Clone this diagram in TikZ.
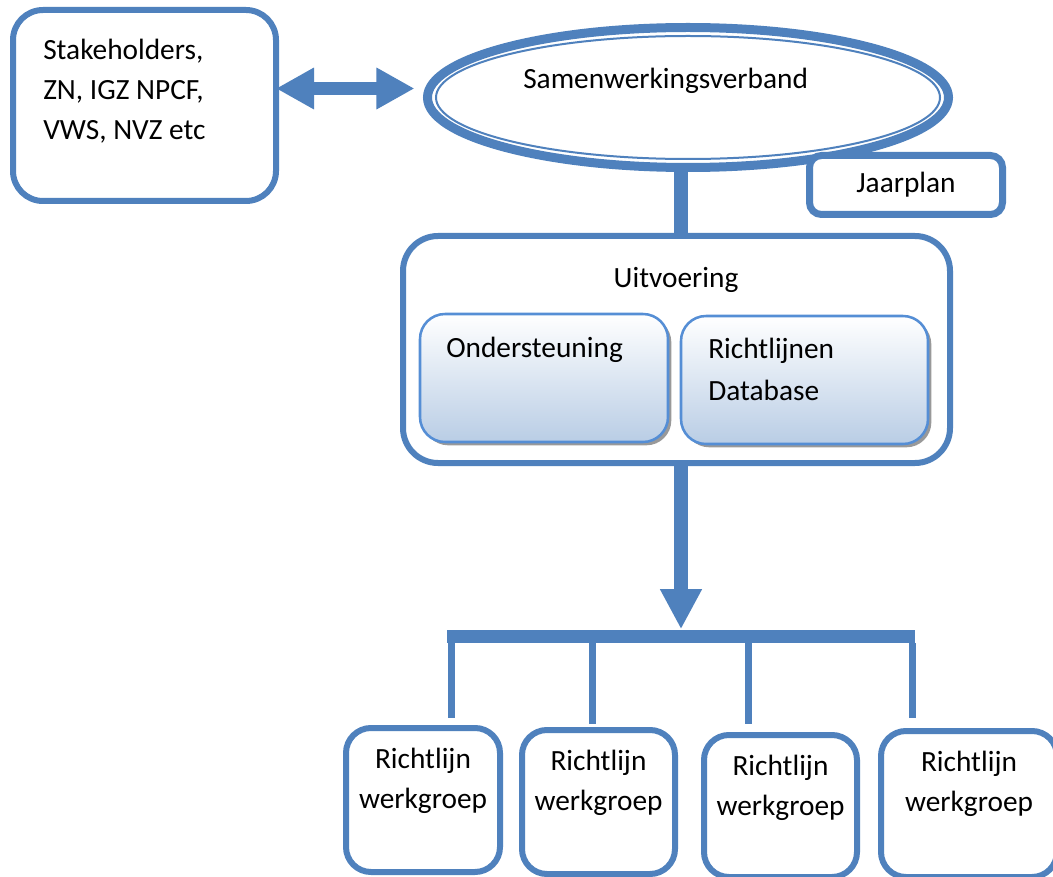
\documentclass[tikz,border=0pt]{standalone}
\usepackage{fontspec}
\setmainfont{Carlito}
\usetikzlibrary{positioning,shapes.geometric,arrows.meta,shadows}
\definecolor{wordblue}{HTML}{4F81BD}
\definecolor{brightblue}{HTML}{558ED5}
\definecolor{paleblue}{HTML}{B9CDE5}

\begin{document}
\begin{tikzpicture}[
x=0.75pt, y=-0.75pt,
font=\fontsize{22}{30}\selectfont,
panel/.style={draw=wordblue, line width=4.5pt, fill=white, rounded corners=#1, inner sep=0pt},
subpanel/.style={draw=brightblue, line width=1.9pt, rounded corners=18.75pt, inner sep=0pt,
  top color=white, bottom color=paleblue,
  drop shadow={shadow xshift=2.5pt, shadow yshift=-2.5pt, fill=black!40, opacity=1},
  minimum height=96pt},
trunk/.style={draw=wordblue, line width=10.5pt},
drop/.style={draw=wordblue, line width=5.25pt},
txt/.style={inner sep=0pt},
]
\path[use as bounding box, fill=white] (0,0) rectangle (1053,877);

\node[panel=22.5pt, minimum width=197.25pt, minimum height=143.25pt] (stk) at (144.5,105.5) {};
\node[txt, anchor=base west, align=left] (stk-t) at (43,140) {Stakeholders,\\ZN, IGZ NPCF,\\VWS, NVZ etc};

\node[ellipse, draw=wordblue, line width=6.75pt, fill=white, inner sep=0pt,
  minimum width=390.75pt, minimum height=105pt] (samen) at (688,97.5) {};
\draw[wordblue, line width=1.5pt] (samen.center) ellipse [x radius=252, y radius=61.5];
\node[txt, anchor=base west] (samen-t) at (523,89) {Samenwerkingsverband};

\coordinate (arrowrow) at (0,88.5);
\draw[wordblue, line width=9.75pt, {Triangle[length=28.5pt,width=29.25pt]}-{Triangle[length=28.5pt,width=29.25pt]},
  shorten <=-2.25pt, shorten >=6.4pt] (stk.east |- arrowrow) -- (samen.west |- arrowrow);

\node[panel=9pt, line width=5.25pt, minimum width=144.75pt, minimum height=44.25pt] (jaar) at (906,185) {Jaarplan};

\coordinate (spine) at (681,0);
\node[panel=26.25pt, minimum width=410.25pt, minimum height=170.25pt] (uitv) at (676.5,349.5) {};
\draw[trunk] (samen.south -| spine) -- (uitv.north -| spine);
\node[txt, anchor=base] (uitv-t) at (676,288) {Uitvoering};

\node[subpanel, minimum width=186pt] (onder) at (544,378) {};
\node[subpanel, minimum width=185.25pt] (rdb) at (804.5,380) {};
\node[txt, anchor=base west] (onder-t) at (446,358) {Ondersteuning};
\node[txt, anchor=base west, align=left, font=\fontsize{22}{31.5}\selectfont] (rdb-t) at (708,400) {Richtlijnen\\Database};

\node[fill=wordblue, inner sep=0pt, minimum width=351pt, minimum height=9.75pt] (bar) at (681,636) {};
\draw[trunk, -{Triangle[length=30pt,width=29.25pt]}] (uitv.south -| spine) -- (bar.north -| spine);

\foreach \i/\cx/\cy/\w/\h in {1/423/800/115.5/108, 2/598.5/802/114.75/108, 3/780.5/806/114.75/106.5, 4/969/804/132/109.5}{
  \node[panel=18.75pt, minimum width=\w pt, minimum height=\h pt] (wg\i) at (\cx,\cy) {};
  \node[txt, anchor=base, align=center] (wg\i-t) at ([yshift=-62.6pt]wg\i.north) {Richtlijn\\werkgroep};
}
\foreach \i/\dx/\gap in {1/451/5.25, 2/592/2.25, 3/748/6, 4/912/7.5}
  \draw[drop, shorten >=\gap pt] (bar.south -| \dx,0) -- (\dx,0 |- wg\i.north);
\end{tikzpicture}
\end{document}
